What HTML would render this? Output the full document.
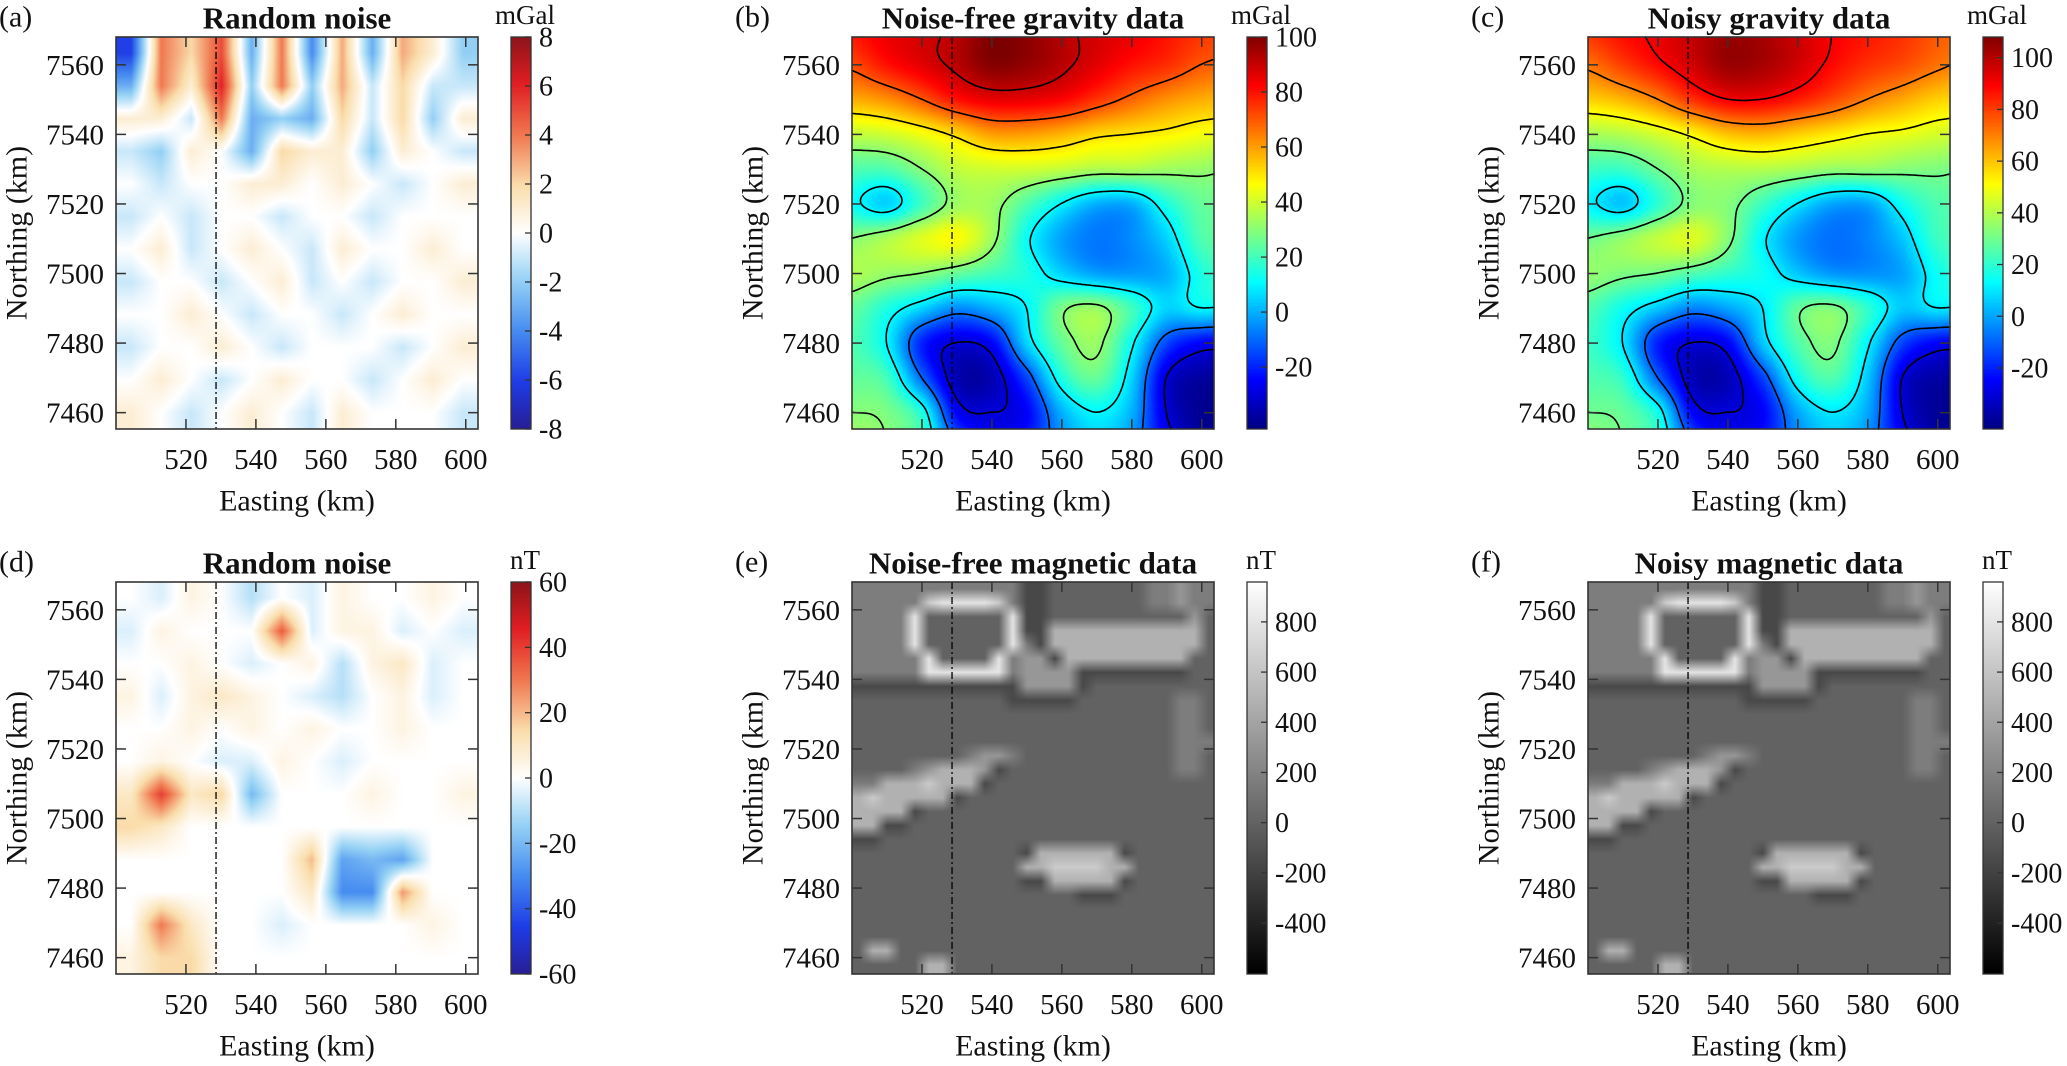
<!DOCTYPE html>
<html><head><meta charset="utf-8">
<style>
html,body{margin:0;padding:0;background:#fff;}
#root{position:relative;width:2067px;height:1066px;overflow:hidden;background:#fff;}
canvas{position:absolute;}
svg{position:absolute;left:0;top:0;}
svg text{font-family:"Liberation Serif","DejaVu Serif",serif;fill:#111;}
</style></head>
<body>
<div id="root">
<svg id="ov" width="2067" height="1066" font-family="Liberation Serif, serif"></svg>
</div>
<script>
// ---------- data ----------
const gravEast = [500,510,520,530,540,550,560,570,580,590,600,610];
const gravNorth = [7570,7560,7550,7540,7530,7520,7510,7500,7490,7480,7470,7460,7450];
const gravityClean = [
 [80,85,88,92,100,98,92,88,85,80,75,72],
 [72,80,86,92,99,97,92,86,80,76,70,68],
 [58,62,70,80,85,85,82,75,68,62,58,56],
 [38,40,45,52,60,60,57,52,50,48,45,44],
 [22,22,30,38,40,40,38,35,35,33,32,30],
 [12,5,20,33,33,22,10,0,0,15,25,25],
 [30,35,42,46,33,12,-2,-8,-5,5,22,22],
 [35,32,30,25,20,15,5,-2,-3,0,15,20],
 [25,15,5,-5,0,10,28,32,20,5,10,8],
 [22,10,-20,-30,-25,5,25,32,12,-15,-25,-25],
 [25,20,-10,-35,-35,-15,15,25,5,-30,-38,-38],
 [30,28,15,-25,-30,-25,0,10,0,-30,-40,-40],
 [35,30,20,-10,-25,-20,-5,5,-5,-25,-38,-38]
];
const gravityNoisy = [
 [82,88,92,98,104,102,96,90,86,82,76,72],
 [72,80,88,96,104,102,96,88,82,78,72,68],
 [58,62,70,82,90,90,85,78,70,64,58,56],
 [38,40,45,52,60,62,58,54,50,48,45,44],
 [22,22,30,38,40,40,38,35,35,33,32,30],
 [12,5,20,33,33,22,10,0,0,15,25,25],
 [30,35,42,46,33,12,-2,-8,-5,5,22,22],
 [35,32,30,25,20,15,5,-2,-3,0,15,20],
 [25,15,5,-5,0,10,28,32,20,5,10,8],
 [22,10,-20,-30,-25,5,25,32,12,-15,-25,-25],
 [25,20,-10,-35,-35,-15,15,25,5,-30,-38,-38],
 [30,28,15,-25,-30,-25,0,10,0,-30,-40,-40],
 [35,30,20,-10,-25,-20,-5,5,-5,-25,-38,-38]
];
const gravContourLevels = [-30,-10,10,30,50,70,90];
const noiseGravity = [
 [-6,4,2,5,-3,4,-4,3,-3,3,1,-2],
 [-3,4,1,6,-2,4,-2,3,-1,2,-1,-1],
 [1,1,-1,4,-3,-2,-3,2,-1,2,-2,1],
 [-1,-2,1,0,-3,2,1,1,-2,1,0,-1],
 [0,-1,0,0,1,1,0,1,0,-1,0,1],
 [-1,0,-1,0,0,-1,0,0,-1,0,0,0],
 [0,1,-1,0,1,0,-1,1,0,0,1,0],
 [-1,0,0,-1,0,1,-1,0,-1,0,0,1],
 [0,0,1,0,-1,0,0,-1,0,1,0,0],
 [-1,0,0,1,0,-1,0,0,0,-1,0,1],
 [0,1,0,-1,0,1,0,0,-1,0,1,0],
 [1,0,-1,0,1,0,-1,1,0,0,0,-1]
];
const noiseMagnetic = [
 [0,-5,5,0,-10,0,-5,5,0,0,5,0],
 [-5,5,0,0,0,35,-5,5,5,-5,0,-5],
 [0,0,5,0,-5,0,5,-10,5,10,-5,0],
 [5,-5,5,10,5,0,-5,-10,0,5,-5,0],
 [0,0,5,0,5,0,5,0,0,5,0,0],
 [0,5,0,-5,-5,5,0,-5,0,0,0,0],
 [10,40,10,15,-20,0,0,0,5,0,0,5],
 [15,10,0,0,0,0,0,0,0,0,0,0],
 [0,0,0,0,0,0,20,-25,-20,-25,0,0],
 [0,0,0,0,0,0,10,-30,-30,25,0,0],
 [0,30,10,0,0,-5,0,0,0,0,5,0],
 [5,15,15,0,0,0,0,0,0,0,0,0]
];
// magnetic field levels: digit d -> d*160-640 nT; 4 km cells from (500,7568)
const magneticRows = [
 "55555555555533444444455655",
 "55555899998533444444455655",
 "55559444444933444444444464",
 "55559444444933777777777774",
 "55559444444953777777777774",
 "55555944449566377777777744",
 "55555999999566663333333344",
 "33333333333366663444444444",
 "44444444444333334444444554",
 "44444444444444444444444554",
 "44444444444444444444444554",
 "44444444444444444444444555",
 "44444444566544444444444554",
 "44445677763444444444444554",
 "55777877734444444444444444",
 "78777773444444444444444444",
 "77773444444444444444444444",
 "77334444444444444444444444",
 "33444444444444444444444444",
 "44444444444437777773444444",
 "44444444444477888877444444",
 "44444444444433777773444444",
 "44444444444444443334444444",
 "44444444444444444444444444",
 "44444444444444444444444444",
 "44444444444444444444444444",
 "47744444444444444444444444",
 "44444774444444444444444444"
];
const xTicks = [520,540,560,580,600];
const yTicks = [7460,7480,7500,7520,7540,7560];
const cbTicksA = [-8,-6,-4,-2,0,2,4,6,8];
const cbTicksGrav = [-20,0,20,40,60,80,100];
const cbTicksD = [-60,-40,-20,0,20,40,60];
const cbTicksMag = [-400,-200,0,200,400,600,800];
const profileEasting = 528.6;

// ---------- geometry ----------
const W = 362, H = 392;
const E0 = 500, E1 = 603.5, N0 = 7568, N1 = 7455.3;
function xPx(e){ return (e - E0) / (E1 - E0) * W; }
function yPx(n){ return (N0 - n) / (N0 - N1) * H; }
function eAt(px){ return E0 + px / W * (E1 - E0); }
function nAt(py){ return N0 - py / H * (N0 - N1); }

// ---------- colormaps ----------
function cl(v){ return v<0?0:v>1?1:v; }
function jet(t){ return [cl(1.5-Math.abs(4*t-3))*255, cl(1.5-Math.abs(4*t-2))*255, cl(1.5-Math.abs(4*t-1))*255]; }
const rbStops = [[0,[40,30,150]],[0.12,[30,60,230]],[0.25,[70,140,240]],[0.38,[150,210,245]],[0.5,[255,255,255]],[0.62,[250,222,172]],[0.75,[240,120,80]],[0.88,[225,30,35]],[1,[140,20,25]]];
function redblue(t){
  t=cl(t);
  for(let i=1;i<rbStops.length;i++){
    if(t<=rbStops[i][0]){
      const a=rbStops[i-1], b=rbStops[i], f=(t-a[0])/(b[0]-a[0]);
      return [a[1][0]+(b[1][0]-a[1][0])*f, a[1][1]+(b[1][1]-a[1][1])*f, a[1][2]+(b[1][2]-a[1][2])*f];
    }
  }
  return rbStops[rbStops.length-1][1];
}
function gray(t){ t=cl(t); return [t*255,t*255,t*255]; }

// ---------- samplers ----------
function cr(p0,p1,p2,p3,t){ return 0.5*((2*p1)+(-p0+p2)*t+(2*p0-5*p1+4*p2-p3)*t*t+(-p0+3*p1-3*p2+p3)*t*t*t); }
function nodeSampler(grid, east, north){
  const de = east[1]-east[0], dn = north[0]-north[1];
  const R = grid.length, C = grid[0].length;
  const g = (j,i)=> grid[Math.max(0,Math.min(R-1,j))][Math.max(0,Math.min(C-1,i))];
  return (e,n)=>{
    const fi=(e-east[0])/de, fj=(north[0]-n)/dn;
    const i=Math.floor(fi), j=Math.floor(fj), ti=fi-i, tj=fj-j;
    const rows=[];
    for(let k=-1;k<=2;k++) rows.push(cr(g(j+k,i-1),g(j+k,i),g(j+k,i+1),g(j+k,i+2),ti));
    return cr(rows[0],rows[1],rows[2],rows[3],tj);
  };
}
function cellSampler(getter, R, C, cw, ch){
  return (e,n)=>{
    const fi=(e-E0)/cw-0.5, fj=(N0-n)/ch-0.5;
    const i=Math.floor(fi), j=Math.floor(fj), ti=fi-i, tj=fj-j;
    const g=(jj,ii)=>getter(Math.max(0,Math.min(R-1,jj)),Math.max(0,Math.min(C-1,ii)));
    const a=g(j,i)*(1-ti)+g(j,i+1)*ti, b=g(j+1,i)*(1-ti)+g(j+1,i+1)*ti;
    return a*(1-tj)+b*tj;
  };
}
const sampA = cellSampler((j,i)=>noiseGravity[j][i], 12, 12, (E1-E0)/12, (N0-N1)/12);
const sampD = cellSampler((j,i)=>noiseMagnetic[j][i], 12, 12, (E1-E0)/12, (N0-N1)/12);
const sampMag = cellSampler((j,i)=>Number(magneticRows[j][i])*160-640, magneticRows.length, magneticRows[0].length, 4, 4);
const sampB = nodeSampler(gravityClean, gravEast, gravNorth);
const sampC = nodeSampler(gravityNoisy, gravEast, gravNorth);

const panels = [
 {key:'a', left:116, top:37, letter:'(a)', title:'Random noise', unit:'mGal', vmin:-8, vmax:8, cmap:redblue, ticks:cbTicksA, samp:sampA},
 {key:'b', left:852, top:37, letter:'(b)', title:'Noise-free gravity data', unit:'mGal', vmin:-42.5, vmax:100, cmap:jet, ticks:cbTicksGrav, samp:sampB, contours:true},
 {key:'c', left:1588, top:37, letter:'(c)', title:'Noisy gravity data', unit:'mGal', vmin:-43.6, vmax:108, cmap:jet, ticks:cbTicksGrav, samp:sampC, contours:true},
 {key:'d', left:116, top:582, letter:'(d)', title:'Random noise', unit:'nT', vmin:-60, vmax:60, cmap:redblue, ticks:cbTicksD, samp:sampD},
 {key:'e', left:852, top:582, letter:'(e)', title:'Noise-free magnetic data', unit:'nT', vmin:-603, vmax:959, cmap:gray, ticks:cbTicksMag, samp:sampMag},
 {key:'f', left:1588, top:582, letter:'(f)', title:'Noisy magnetic data', unit:'nT', vmin:-603, vmax:959, cmap:gray, ticks:cbTicksMag, samp:sampMag}
];

const root = document.getElementById('root');
const svg = document.getElementById('ov');
const NS = 'http://www.w3.org/2000/svg';
function mk(tag, attrs, parent){
  const el = document.createElementNS(NS, tag);
  for(const k in attrs) el.setAttribute(k, attrs[k]);
  (parent||svg).appendChild(el);
  return el;
}
function txt(str, attrs, parent){ attrs['font-family']='Liberation Serif, serif'; const t = mk('text', attrs, parent); t.textContent = str; return t; }

panels.forEach(p=>{
  const cv = document.createElement('canvas');
  cv.width = W; cv.height = H;
  cv.style.left = p.left+'px'; cv.style.top = p.top+'px';
  
  
  root.insertBefore(cv, svg);
  const ctx = cv.getContext('2d');
  const img = ctx.createImageData(W, H);
  const field = new Float32Array(W*H);
  for(let y=0;y<H;y++){
    const n = nAt(y+0.5);
    for(let x=0;x<W;x++){
      const v = p.samp(eAt(x+0.5), n);
      field[y*W+x] = v;
      const c = p.cmap((v-p.vmin)/(p.vmax-p.vmin));
      const o = (y*W+x)*4;
      img.data[o]=c[0]; img.data[o+1]=c[1]; img.data[o+2]=c[2]; img.data[o+3]=255;
    }
  }
  ctx.putImageData(img,0,0);

  const cbL = p.left + W + 33, cbW = 20;
  const cb = document.createElement('canvas');
  cb.width = cbW; cb.height = H;
  cb.style.left = cbL+'px'; cb.style.top = p.top+'px';
  
  
  root.insertBefore(cb, svg);
  const cctx = cb.getContext('2d');
  for(let y=0;y<H;y++){
    const c = p.cmap(1 - (y+0.5)/H);
    cctx.fillStyle = 'rgb('+Math.round(c[0])+','+Math.round(c[1])+','+Math.round(c[2])+')';
    cctx.fillRect(0,y,cbW,1);
  }

  const g = mk('g', {transform:'translate('+p.left+','+p.top+')'});
  
  

  if(p.contours){
    const step = 2;
    const cols = Math.floor(W/step)+1, rows = Math.floor(H/step)+1;
    const fv = (i,j)=> field[Math.min(H-1,j*step)*W + Math.min(W-1,i*step)];
    gravContourLevels.forEach(L=>{
      let d = '';
      for(let j=0;j<rows-1;j++){
        for(let i=0;i<cols-1;i++){
          const v0=fv(i,j), v1=fv(i+1,j), v2=fv(i+1,j+1), v3=fv(i,j+1);
          const pts=[];
          const x0=i*step, y0=j*step;
          if((v0<L)!==(v1<L)) pts.push([x0+step*(L-v0)/(v1-v0), y0]);
          if((v1<L)!==(v2<L)) pts.push([x0+step, y0+step*(L-v1)/(v2-v1)]);
          if((v3<L)!==(v2<L)) pts.push([x0+step*(L-v3)/(v2-v3), y0+step]);
          if((v0<L)!==(v3<L)) pts.push([x0, y0+step*(L-v0)/(v3-v0)]);
          for(let k=0;k+1<pts.length;k+=2) d += 'M'+pts[k][0].toFixed(1)+' '+pts[k][1].toFixed(1)+'L'+pts[k+1][0].toFixed(1)+' '+pts[k+1][1].toFixed(1);
        }
      }
      const path = mk('path', {d:d, fill:'none', stroke:'#000', 'stroke-width':1.6, 'stroke-linecap':'round'}, g);
      
      
    });
  }

  const pl = mk('line', {x1:xPx(profileEasting), x2:xPx(profileEasting), y1:0, y2:H, stroke:'#000', 'stroke-width':1.3, 'stroke-dasharray':'7 3 2 3'}, g);
  
  

  const fr = mk('rect', {x:0, y:0, width:W, height:H, fill:'none', stroke:'#333', 'stroke-width':1.6}, g);
  
  

  xTicks.forEach(v=>{
    const x = xPx(v);
    mk('line', {x1:x, x2:x, y1:H, y2:H-10, stroke:'#333', 'stroke-width':1.5}, g);
    mk('line', {x1:x, x2:x, y1:0, y2:10, stroke:'#333', 'stroke-width':1.5}, g);
    const t = txt(String(v), {x:x, y:H+31, 'font-size':29, 'text-anchor':'middle', 'dominant-baseline':'central'}, g);
    
    
  });
  yTicks.forEach(v=>{
    const y = yPx(v);
    mk('line', {x1:0, x2:10, y1:y, y2:y, stroke:'#333', 'stroke-width':1.5}, g);
    mk('line', {x1:W, x2:W-10, y1:y, y2:y, stroke:'#333', 'stroke-width':1.5}, g);
    const t = txt(String(v), {x:-12, y:y+1, 'font-size':29, 'text-anchor':'end', 'dominant-baseline':'central'}, g);
    
    
  });
  const xl = txt('Easting (km)', {x:W/2, y:H+72, 'font-size':30, 'text-anchor':'middle', 'dominant-baseline':'central'}, g);
  
  
  const yl = txt('Northing (km)', {x:0, y:0, 'font-size':30, 'text-anchor':'middle', 'dominant-baseline':'central', transform:'translate(-99,'+(H/2)+') rotate(-90)'}, g);
  
  
  const tt = txt(p.title, {x:W/2, y:-19, 'font-size':31, 'font-weight':'bold', 'text-anchor':'middle', 'dominant-baseline':'central'}, g);
  
  
  const lt = txt(p.letter, {x:-117, y:-20, 'font-size':30, 'text-anchor':'start', 'dominant-baseline':'central'}, g);
  
  

  const cx = W + 33;
  mk('rect', {x:cx, y:0, width:cbW, height:H, fill:'none', stroke:'#333', 'stroke-width':1.3}, g);
  p.ticks.forEach(v=>{
    const y = (p.vmax - v)/(p.vmax - p.vmin)*H;
    mk('line', {x1:cx+cbW, x2:cx+cbW-6, y1:y, y2:y, stroke:'#333', 'stroke-width':1.3}, g);
    const t = txt(String(v), {x:cx+cbW+8, y:y+1, 'font-size':28, 'text-anchor':'start', 'dominant-baseline':'central'}, g);
    
    
  });
  const ut = txt(p.unit, {x:cx+cbW/2+4, y:-22, 'font-size':27, 'text-anchor':'middle', 'dominant-baseline':'central'}, g);
  
  
});
</script>
</body></html>
